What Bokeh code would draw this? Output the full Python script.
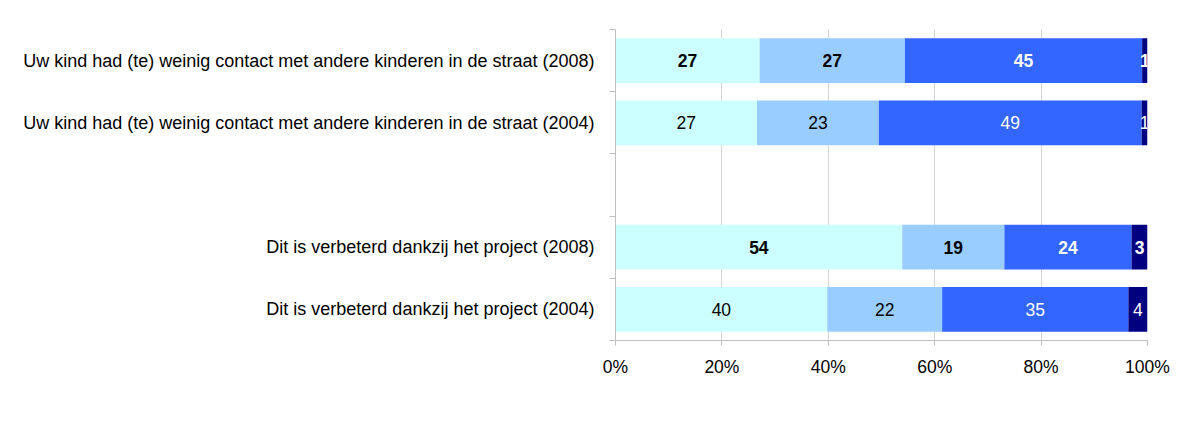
from bokeh.plotting import figure
from bokeh.models import (ColumnDataSource, Range1d, LinearAxis,
                          FixedTicker, PrintfTickFormatter, Legend, LegendItem, Label, Grid)
from bokeh.embed import file_html
from bokeh.resources import INLINE
from bokeh.core.properties import value
import numpy as np

# ---------------- data (bottom to top) ----------------
categories = [
    "Dit is verbeterd dankzij het project (2004)",
    "Dit is verbeterd dankzij het project (2008)",
    " ",
    "Uw kind had (te) weinig contact met andere kinderen in de straat (2004)",
    "Uw kind had (te) weinig contact met andere kinderen in de straat (2008)",
]
series = ["Mee eens", "Niet eens, niet oneens", "Mee oneens", "Weet niet, geen mening"]
mee_eens = [39.8, 53.9, 0, 26.6, 27.1]
niet_eens = [21.6, 19.2, 0, 22.9, 27.3]
mee_oneens = [35.0, 23.9, 0, 49.4, 44.6]
weet_niet = [3.6, 3.0, 0, 1.1, 1.0]
bold_rows = [False, True, False, False, True]
x_ticks = [0, 20, 40, 60, 80, 100]
title_text = "kinderen in de straat (n=103)"

# ---------------- styles ----------------
colors = ["#CCFFFF", "#99CCFF", "#3366FF", "#000080"]
label_colors = ["#000000", "#000000", "#FFFFFF", "#FFFFFF"]
FONT = "Liberation Sans"
AX = "#bfbfbf"

n = len(categories)
ypos = np.arange(n) + 0.5          # slot centres on the category scale
keys = ["s0", "s1", "s2", "s3"]
vals = [mee_eens, niet_eens, mee_oneens, weet_niet]
src = ColumnDataSource(dict(y=ypos, **{k: v for k, v in zip(keys, vals)}))

W, H = 1176, 424
LEFT, RIGHT, TOP, BOTTOM = 615, 29, 37, 76

p = figure(width=W, height=H, y_range=Range1d(0, n), x_range=Range1d(0, 100),
           output_backend="svg", toolbar_location=None,
           x_axis_location=None, y_axis_location=None,
           min_border_left=LEFT, min_border_right=RIGHT, min_border_top=TOP,
           min_border_bottom=BOTTOM)
p.outline_line_color = None
p.background_fill_color = "white"
p.border_fill_color = "white"
p.xgrid.visible = False
p.ygrid.visible = False
p.styles = {"margin-top": "-8px", "margin-left": "0px"}

renderers = p.hbar_stack(keys, y="y", height=0.72, color=colors, line_color=None, source=src)

# labels
xs, ys, txt, tcol, fst = [], [], [], [], []
arr = np.array(vals, dtype=float)
starts = np.vstack([np.zeros(arr.shape[1]), np.cumsum(arr, axis=0)[:-1]])
for si in range(arr.shape[0]):
    for ci in range(n):
        v = arr[si, ci]
        if v <= 0:
            continue
        xs.append(starts[si, ci] + v / 2)
        ys.append(ypos[ci])
        txt.append(str(int(round(v))))
        tcol.append(label_colors[si])
        fst.append("bold" if bold_rows[ci] else "normal")
lsrc = ColumnDataSource(dict(x=xs, y=ys, t=txt, c=tcol, f=fst))
p.text(x="x", y="y", text="t", text_color="c", text_font_style="f", source=lsrc,
       text_align="center", text_baseline="middle",
       text_font=value(FONT), text_font_size=value("17.5px"))

# grid
p.add_layout(Grid(dimension=0, ticker=FixedTicker(ticks=x_ticks[1:-1]),
                  grid_line_color="#d4d4d4", grid_line_width=1))

# axes
xaxis = LinearAxis(ticker=FixedTicker(ticks=x_ticks), formatter=PrintfTickFormatter(format="%d%%"),
                   axis_line_color=AX, major_tick_line_color=AX, major_tick_out=5, major_tick_in=0,
                   minor_tick_line_color=None, major_label_text_font=FONT,
                   major_label_text_font_size="17.5px", major_label_standoff=11,
                   major_label_text_color="#000000")
p.add_layout(xaxis, "below")

yaxis = LinearAxis(ticker=FixedTicker(ticks=list(ypos), minor_ticks=list(range(n + 1))),
                   major_label_overrides={float(y): c for y, c in zip(ypos, categories)},
                   axis_line_color=AX, major_tick_line_color=None, major_tick_out=0, major_tick_in=0,
                   minor_tick_line_color=AX, minor_tick_out=6, minor_tick_in=0,
                   major_label_standoff=15, major_label_text_font=FONT,
                   major_label_text_font_size="18px", major_label_text_color="#000000")
p.add_layout(yaxis, "left")

# legend
items = [LegendItem(label=s, renderers=[r]) for s, r in zip(series, renderers)]
legend = Legend(items=items, orientation="horizontal", location=(283 - 1.3 - LEFT, -83),
                glyph_width=13, glyph_height=13, label_standoff=5, spacing=11, padding=0,
                margin=0, border_line_color=None, background_fill_alpha=0,
                label_text_font=FONT, label_text_font_size="17.5px")
p.add_layout(legend, "center")

# outer chart border (open to the right and bottom, as in the cropped source)
frame_bottom = TOP + (H - TOP - BOTTOM)
p.add_layout(Label(x=10.5 - LEFT, y=frame_bottom - 22.3, x_units="screen", y_units="screen",
                   text=" ", text_font_size="10px", text_align="left", text_baseline="top",
                   padding=(0, 3000, 3000, 0), border_line_color="#404040",
                   border_line_width=2.5, background_fill_color=None))
# cut-off chart title
p.add_layout(Label(x=0 - LEFT, y=frame_bottom - 12.5, x_units="screen", y_units="screen",
                   text=title_text, text_font=FONT, text_font_size="26px",
                   text_baseline="alphabetic", text_align="left", text_color="#000000"))

open("out.html", "w").write(file_html(p, INLINE))
